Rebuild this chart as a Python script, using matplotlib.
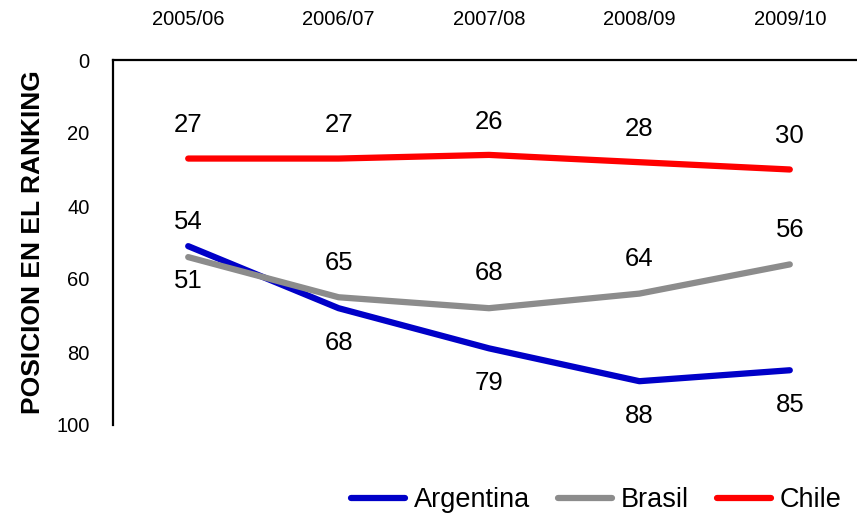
import matplotlib.pyplot as plt
import numpy as np

plt.rcParams['font.family'] = ['Liberation Sans', 'DejaVu Sans']

# data
seasons = ['2005/06', '2006/07', '2007/08', '2008/09', '2009/10']
argentina = [51, 68, 79, 88, 85]
brasil = [54, 65, 68, 64, 56]
chile = [27, 27, 26, 28, 30]

fig = plt.figure(figsize=(8.57, 5.17), dpi=100)
ax = fig.add_axes([113 / 857, 1 - 425 / 517, 752 / 857, 365 / 517])

x = np.arange(len(seasons))
ax.plot(x, argentina, color='#0000c8', lw=4.5, solid_capstyle='round', label='Argentina')
ax.plot(x, brasil, color='#8c8c8c', lw=4.5, solid_capstyle='round', label='Brasil')
ax.plot(x, chile, color='#ff0000', lw=4.5, solid_capstyle='round', label='Chile')

# data labels: Argentina below, Brasil and Chile above
for xi, v in zip(x, argentina):
    ax.annotate(str(v), (xi, v), xytext=(0, -25), textcoords='offset points',
                ha='center', va='center', fontsize=18.5)
for xi, v in zip(x, brasil):
    ax.annotate(str(v), (xi, v), xytext=(0, 25), textcoords='offset points',
                ha='center', va='center', fontsize=18.5)
for xi, v in zip(x, chile):
    ax.annotate(str(v), (xi, v), xytext=(0, 24), textcoords='offset points',
                ha='center', va='center', fontsize=18.5)

ax.set_xlim(-0.5, 4.5)
ax.set_ylim(100, 0)
ax.set_yticks([0, 20, 40, 60, 80, 100])
ax.set_xticks(x)
ax.set_xticklabels(seasons)
ax.xaxis.tick_top()
ax.tick_params(axis='x', length=0, pad=22, labelsize=14.5)
ax.tick_params(axis='y', length=0, pad=17, labelsize=14.5)

for s in ['right', 'bottom']:
    ax.spines[s].set_visible(False)
ax.spines['left'].set_linewidth(1.6)
ax.spines['top'].set_linewidth(1.6)

ax.set_ylabel('POSICION EN EL RANKING', fontsize=19, fontweight='bold', labelpad=8)

fig.legend(loc='lower right', bbox_to_anchor=(1.01, -0.04), ncol=3, frameon=False,
           fontsize=19.5, handlelength=2.0, handletextpad=0.3, columnspacing=1.05)

fig.savefig('out.png', dpi=100)
